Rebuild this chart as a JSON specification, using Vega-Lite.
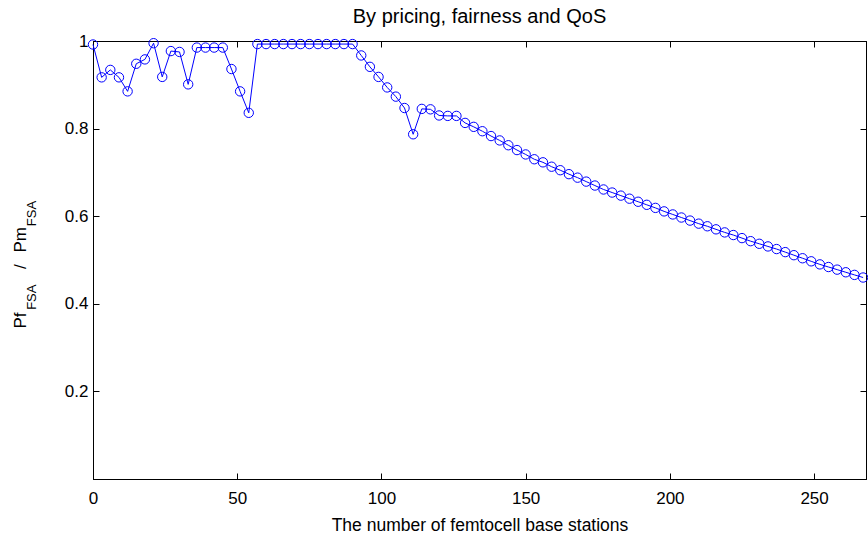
{
  "$schema": "https://vega.github.io/schema/vega-lite/v6.json",
  "width": 773,
  "height": 438,
  "autosize": {"type": "none"},
  "padding": {"left": 93, "top": 41, "right": 2, "bottom": 62},
  "background": "white",
  "title": {"text": "By pricing, fairness and QoS", "fontSize": 20, "fontWeight": "normal", "font": "Liberation Sans", "color": "black", "offset": 5},
  "config": {
    "font": "Liberation Sans",
    "view": {"stroke": "black", "strokeWidth": 1},
    "axis": {"grid": false, "domainColor": "black", "tickColor": "black", "labelColor": "black", "titleColor": "black", "labelFontSize": 17, "titleFontSize": 17.5, "titleFontWeight": "normal", "labelFont": "Liberation Sans", "titleFont": "Liberation Sans"}
  },
  "data": {"values": [
    {"x": 0, "y": 0.992}, {"x": 3, "y": 0.917}, {"x": 6, "y": 0.934}, {"x": 9, "y": 0.917}, {"x": 12, "y": 0.885},
    {"x": 15, "y": 0.948}, {"x": 18, "y": 0.958}, {"x": 21, "y": 0.995}, {"x": 24, "y": 0.918}, {"x": 27, "y": 0.977},
    {"x": 30, "y": 0.975}, {"x": 33, "y": 0.901}, {"x": 36, "y": 0.985}, {"x": 39, "y": 0.985}, {"x": 42, "y": 0.985},
    {"x": 45, "y": 0.985}, {"x": 48, "y": 0.936}, {"x": 51, "y": 0.885}, {"x": 54, "y": 0.836}, {"x": 57, "y": 0.993},
    {"x": 60, "y": 0.993}, {"x": 63, "y": 0.993}, {"x": 66, "y": 0.993}, {"x": 69, "y": 0.993}, {"x": 72, "y": 0.993},
    {"x": 75, "y": 0.993}, {"x": 78, "y": 0.993}, {"x": 81, "y": 0.993}, {"x": 84, "y": 0.993}, {"x": 87, "y": 0.993},
    {"x": 90, "y": 0.993}, {"x": 93, "y": 0.967}, {"x": 96, "y": 0.941}, {"x": 99, "y": 0.918}, {"x": 102, "y": 0.894},
    {"x": 105, "y": 0.873}, {"x": 108, "y": 0.847}, {"x": 111, "y": 0.787}, {"x": 114, "y": 0.845}, {"x": 117, "y": 0.844},
    {"x": 120, "y": 0.830}, {"x": 123, "y": 0.829}, {"x": 126, "y": 0.829}, {"x": 129, "y": 0.813}, {"x": 132, "y": 0.804},
    {"x": 135, "y": 0.794}, {"x": 138, "y": 0.783}, {"x": 141, "y": 0.773}, {"x": 144, "y": 0.762}, {"x": 147, "y": 0.751},
    {"x": 150, "y": 0.741}, {"x": 153, "y": 0.730}, {"x": 156, "y": 0.723}, {"x": 159, "y": 0.713}, {"x": 162, "y": 0.705},
    {"x": 165, "y": 0.696}, {"x": 168, "y": 0.688}, {"x": 171, "y": 0.679}, {"x": 174, "y": 0.670}, {"x": 177, "y": 0.661},
    {"x": 180, "y": 0.654}, {"x": 183, "y": 0.647}, {"x": 186, "y": 0.640}, {"x": 189, "y": 0.633}, {"x": 192, "y": 0.626},
    {"x": 195, "y": 0.619}, {"x": 198, "y": 0.611}, {"x": 201, "y": 0.604}, {"x": 204, "y": 0.597}, {"x": 207, "y": 0.590},
    {"x": 210, "y": 0.583}, {"x": 213, "y": 0.577}, {"x": 216, "y": 0.570}, {"x": 219, "y": 0.563}, {"x": 222, "y": 0.557},
    {"x": 225, "y": 0.550}, {"x": 228, "y": 0.543}, {"x": 231, "y": 0.537}, {"x": 234, "y": 0.531}, {"x": 237, "y": 0.525},
    {"x": 240, "y": 0.518}, {"x": 243, "y": 0.511}, {"x": 246, "y": 0.504}, {"x": 249, "y": 0.497}, {"x": 252, "y": 0.490},
    {"x": 255, "y": 0.484}, {"x": 258, "y": 0.478}, {"x": 261, "y": 0.472}, {"x": 264, "y": 0.466}, {"x": 267, "y": 0.460}
  ]},
  "resolve": {"axis": {"x": "independent", "y": "independent"}},
  "layer": [
    {
      "mark": {"type": "line", "color": "#0000ff", "strokeWidth": 1, "clip": false},
      "encoding": {
        "x": {"field": "x", "type": "quantitative", "scale": {"domain": [0, 268], "nice": false, "zero": false},
              "axis": {"orient": "bottom", "values": [0, 50, 100, 150, 200, 250], "format": "d", "tickSize": -6, "labelPadding": 17, "title": "The number of femtocell base stations", "titlePadding": 10, "labelFlush": false}},
        "y": {"field": "y", "type": "quantitative", "scale": {"domain": [0, 1], "nice": false, "zero": false},
              "axis": {"orient": "left", "values": [0, 0.2, 0.4, 0.6, 0.8, 1], "labelExpr": "datum.value == 0 ? '' : format(datum.value, '~g')", "tickSize": -6, "labelPadding": 11, "title": null, "labelFlush": false}}
      }
    },
    {
      "mark": {"type": "point", "shape": "circle", "filled": false, "color": "#0000ff", "strokeWidth": 1, "size": 88, "opacity": 1, "clip": false},
      "encoding": {
        "x": {"field": "x", "type": "quantitative", "scale": {"domain": [0, 268], "nice": false, "zero": false}, "axis": null},
        "y": {"field": "y", "type": "quantitative", "scale": {"domain": [0, 1], "nice": false, "zero": false}, "axis": null}
      }
    },
    {
      "mark": {"type": "point", "opacity": 0},
      "encoding": {
        "x": {"field": "x", "type": "quantitative", "scale": {"domain": [0, 268], "nice": false, "zero": false},
              "axis": {"orient": "top", "values": [0, 50, 100, 150, 200, 250], "tickSize": -6, "labels": false, "title": null}},
        "y": {"field": "y", "type": "quantitative", "scale": {"domain": [0, 1], "nice": false, "zero": false},
              "axis": {"orient": "right", "values": [0, 0.2, 0.4, 0.6, 0.8, 1], "tickSize": -6, "labels": false, "title": null}}
      }
    },
    {
      "data": {"values": [{}]},
      "mark": {"type": "text", "angle": 270, "align": "center", "baseline": "middle", "fontSize": 17, "color": "black"},
      "encoding": {
        "x": {"datum": -24.8, "type": "quantitative", "scale": {"domain": [0, 268], "nice": false, "zero": false}, "axis": null},
        "y": {"datum": 0.362, "type": "quantitative", "scale": {"domain": [0, 1], "nice": false, "zero": false}, "axis": null},
        "text": {"value": "Pf"}
      }
    },
    {
      "data": {"values": [{}]},
      "mark": {"type": "text", "angle": 270, "align": "center", "baseline": "middle", "fontSize": 13, "color": "black"},
      "encoding": {
        "x": {"datum": -21.0, "type": "quantitative", "scale": {"domain": [0, 268], "nice": false, "zero": false}, "axis": null},
        "y": {"datum": 0.415, "type": "quantitative", "scale": {"domain": [0, 1], "nice": false, "zero": false}, "axis": null},
        "text": {"value": "FSA"}
      }
    },
    {
      "data": {"values": [{}]},
      "mark": {"type": "text", "angle": 270, "align": "center", "baseline": "middle", "fontSize": 17, "color": "black"},
      "encoding": {
        "x": {"datum": -24.8, "type": "quantitative", "scale": {"domain": [0, 268], "nice": false, "zero": false}, "axis": null},
        "y": {"datum": 0.485, "type": "quantitative", "scale": {"domain": [0, 1], "nice": false, "zero": false}, "axis": null},
        "text": {"value": "/"}
      }
    },
    {
      "data": {"values": [{}]},
      "mark": {"type": "text", "angle": 270, "align": "center", "baseline": "middle", "fontSize": 17, "color": "black"},
      "encoding": {
        "x": {"datum": -24.8, "type": "quantitative", "scale": {"domain": [0, 268], "nice": false, "zero": false}, "axis": null},
        "y": {"datum": 0.546, "type": "quantitative", "scale": {"domain": [0, 1], "nice": false, "zero": false}, "axis": null},
        "text": {"value": "Pm"}
      }
    },
    {
      "data": {"values": [{}]},
      "mark": {"type": "text", "angle": 270, "align": "center", "baseline": "middle", "fontSize": 13, "color": "black"},
      "encoding": {
        "x": {"datum": -21.0, "type": "quantitative", "scale": {"domain": [0, 268], "nice": false, "zero": false}, "axis": null},
        "y": {"datum": 0.606, "type": "quantitative", "scale": {"domain": [0, 1], "nice": false, "zero": false}, "axis": null},
        "text": {"value": "FSA"}
      }
    }
  ]
}
